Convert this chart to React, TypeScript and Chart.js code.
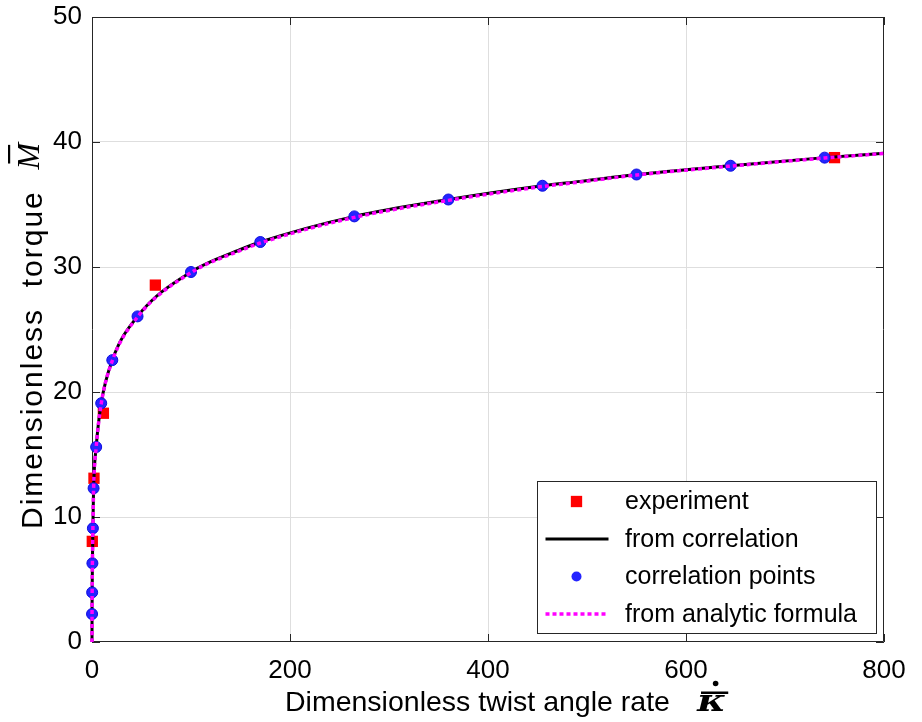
import { useEffect, useRef } from 'react';
import { Chart, registerables } from 'chart.js';

Chart.register(...registerables);

// ---- data ----
const experimentX = [0.3, 2.0, 11.5, 64, 750];
const experimentY = [8.05, 13.1, 18.3, 28.55, 38.75];

const pointsX = [0.05, 0.15, 0.4, 0.9, 1.6, 4.2, 9.3, 20.5, 46, 100, 170, 265, 360, 455, 550, 645, 740];
const pointsY = [2.24, 3.97, 6.3, 9.1, 12.3, 15.6, 19.1, 22.55, 26.05, 29.6, 32.0, 34.05, 35.4, 36.5, 37.4, 38.1, 38.75];

const curveX = [0, 0.05, 0.15, 0.4, 0.9, 1.6, 4.2, 9.3, 20.5, 46, 100, 150, 170, 265, 360, 455, 493, 550, 645, 740, 800];
const correlationY = [0, 2.24, 3.97, 6.3, 9.1, 12.3, 15.6, 19.1, 22.55, 26.05, 29.6, 31.4, 32.0, 34.05, 35.4, 36.5, 36.85, 37.4, 38.1, 38.75, 39.1];
const analyticY = [0, 2.2, 3.95, 6.25, 9.05, 12.25, 15.55, 19.05, 22.5, 26.0, 29.55, 31.32, 31.92, 33.97, 35.33, 36.44, 36.8, 37.36, 38.07, 38.72, 39.08];

const xTicks = [0, 200, 400, 600, 800];
const yTicks = [0, 10, 20, 30, 40, 50];

const labels = ['experiment', 'from correlation', 'correlation points', 'from analytic formula'];
const xTitle = 'Dimensionless twist angle rate';
const yTitle = 'Dimensionless  torque';

const SANS = "'Liberation Sans', Arial, sans-serif";
const SERIF = "'DejaVu Serif', 'Liberation Serif', serif";
const MSERIF = "'Liberation Serif', 'Times New Roman', serif";

const toXY = (xs: number[], ys: number[]) => xs.map((x, i) => ({ x, y: ys[i] }));

const decorPlugin = {
  id: 'decor',
  beforeDatasetsDraw(chart: any) {
    const { ctx, chartArea: a, scales } = chart;
    const x = scales.x;
    const y = scales.y;
    ctx.save();
    ctx.strokeStyle = '#262626';
    ctx.lineWidth = 1;
    ctx.beginPath();
    ctx.rect(Math.round(a.left) + 0.5, Math.round(a.top) + 0.5, Math.round(a.right - a.left) - 1, Math.round(a.bottom - a.top) - 1);
    ctx.stroke();
    const tl = 8;
    ctx.beginPath();
    for (const v of xTicks) {
      const px = Math.round(x.getPixelForValue(v)) + 0.5;
      ctx.moveTo(px, a.bottom);
      ctx.lineTo(px, a.bottom - tl);
      ctx.moveTo(px, a.top);
      ctx.lineTo(px, a.top + tl);
    }
    for (const v of yTicks) {
      const py = Math.round(y.getPixelForValue(v)) + 0.5;
      ctx.moveTo(a.left, py);
      ctx.lineTo(a.left + tl, py);
      ctx.moveTo(a.right, py);
      ctx.lineTo(a.right - tl, py);
    }
    ctx.stroke();
    ctx.restore();
  },
  afterDraw(chart: any) {
    const { ctx } = chart;
    ctx.save();
    // ---- legend ----
    const L = { left: 537.5, top: 481.5, w: 339, h: 152 };
    ctx.fillStyle = '#ffffff';
    ctx.fillRect(L.left, L.top, L.w, L.h);
    ctx.strokeStyle = '#262626';
    ctx.lineWidth = 1;
    ctx.strokeRect(L.left, L.top, L.w, L.h);
    const ds = chart.data.datasets;
    ds.forEach((d: any, i: number) => {
      const cy = L.top + 20 + i * 37.5;
      const mx = L.left + 39;
      if (d.showLine) {
        ctx.save();
        ctx.strokeStyle = d.borderColor;
        ctx.lineWidth = d.borderWidth;
        ctx.setLineDash(d.borderDash || []);
        ctx.beginPath();
        ctx.moveTo(L.left + 8, cy);
        ctx.lineTo(L.left + 71, cy);
        ctx.stroke();
        ctx.restore();
      } else {
        ctx.save();
        ctx.fillStyle = d.backgroundColor;
        if (d.pointStyle === 'rect') {
          const s = d.pointRadius * Math.SQRT1_2;
          ctx.fillRect(mx - s, cy - s, 2 * s, 2 * s);
        } else {
          ctx.beginPath();
          ctx.arc(mx, cy, d.pointRadius - 0.5, 0, Math.PI * 2);
          ctx.fill();
        }
        ctx.restore();
      }
      ctx.fillStyle = '#000000';
      ctx.font = `25px ${SANS}`;
      ctx.textBaseline = 'middle';
      ctx.textAlign = 'left';
      ctx.fillText(d.label, L.left + 87.5, cy + 1);
    });

    // ---- x title ----
    ctx.fillStyle = '#000000';
    ctx.textBaseline = 'alphabetic';
    ctx.textAlign = 'left';
    ctx.font = `28.5px ${SANS}`;
    const xtx = 285;
    const xty = 711;
    ctx.fillText(xTitle, xtx, xty);
    const kx = 697;
    ctx.font = `bold italic 30px ${SERIF}`;
    ctx.save();
    ctx.translate(kx, xty);
    ctx.scale(1.3, 1);
    ctx.fillText('κ', 0, 0);
    ctx.restore();
    const kw = ctx.measureText('κ').width * 1.3;
    ctx.fillRect(kx + 4, 691.5, kw - 2, 2.5);
    ctx.beginPath();
    ctx.arc(kx + 4 + kw / 2, 683.5, 2.8, 0, Math.PI * 2);
    ctx.fill();

    // ---- y title ----
    ctx.save();
    ctx.translate(42, 529);
    ctx.rotate(-Math.PI / 2);
    ctx.font = `30px ${SANS}`;
    try { (ctx as any).letterSpacing = '2px'; } catch (e) { /* ignore */ }
    ctx.fillText(yTitle, 0, 0);
    const tw = ctx.measureText(yTitle + '  ').width;
    try { (ctx as any).letterSpacing = '0px'; } catch (e) { /* ignore */ }
    ctx.font = `italic 32px ${MSERIF}`;
    ctx.fillText('M', tw, -3);
    const mw = ctx.measureText('M').width;
    ctx.fillRect(tw + 6, -34, mw - 8, 2.2);
    ctx.restore();

    ctx.restore();
  },
};

export default function App() {
  const ref = useRef<HTMLCanvasElement | null>(null);
  useEffect(() => {
    document.body.style.margin = '0';
    const canvas = ref.current;
    if (!canvas) return;
    const chart = new Chart(canvas, {
      type: 'scatter',
      data: {
        datasets: [
          {
            label: labels[0],
            data: toXY(experimentX, experimentY),
            showLine: false,
            pointStyle: 'rect',
            pointRadius: 8,
            backgroundColor: '#ff0000',
            borderColor: '#ff0000',
            borderWidth: 0,
            order: 4,
            clip: 8,
          },
          {
            label: labels[1],
            data: toXY(curveX, correlationY),
            showLine: true,
            pointRadius: 0,
            borderColor: '#000000',
            borderWidth: 3,
            cubicInterpolationMode: 'monotone',
            order: 3,
            clip: 8,
          },
          {
            label: labels[2],
            data: toXY(pointsX, pointsY),
            showLine: false,
            pointStyle: 'circle',
            pointRadius: 5.5,
            backgroundColor: '#2424ff',
            borderColor: '#0c0ce0',
            borderWidth: 1,
            order: 2,
            clip: 8,
          },
          {
            label: labels[3],
            data: toXY(curveX, analyticY),
            showLine: true,
            pointRadius: 0,
            borderColor: '#ff00ff',
            borderWidth: 3.5,
            borderDash: [4, 3],
            cubicInterpolationMode: 'monotone',
            order: 1,
            clip: 8,
          },
        ] as any,
      },
      options: {
        animation: false,
        responsive: false,
        events: [],
        layout: { padding: { top: 17, right: 38, left: 0, bottom: 0 } },
        plugins: { legend: { display: false }, tooltip: { enabled: false }, title: { display: false } },
        scales: {
          x: {
            type: 'linear',
            min: 0,
            max: 800,
            afterFit: (s: any) => { s.height = 80; s.paddingLeft = 0; s.paddingRight = 0; },
            afterBuildTicks: (s: any) => { s.ticks = xTicks.map((v) => ({ value: v })); },
            ticks: { font: { size: 26, family: SANS }, color: '#000000', padding: 13, maxRotation: 0 },
            grid: {
              drawTicks: false,
              color: (c: any) => (c.tick && (c.tick.value === 0 || c.tick.value === 800) ? 'rgba(0,0,0,0)' : '#dedede'),
              lineWidth: 1,
            },
            border: { display: false },
          },
          y: {
            type: 'linear',
            min: 0,
            max: 50,
            afterFit: (s: any) => { s.width = 92; s.paddingTop = 0; s.paddingBottom = 0; },
            afterBuildTicks: (s: any) => { s.ticks = yTicks.map((v) => ({ value: v })); },
            ticks: { font: { size: 26, family: SANS }, color: '#000000', padding: 10 },
            grid: {
              drawTicks: false,
              color: (c: any) => (c.tick && (c.tick.value === 0 || c.tick.value === 50) ? 'rgba(0,0,0,0)' : '#dedede'),
              lineWidth: 1,
            },
            border: { display: false },
          },
        },
      },
      plugins: [decorPlugin],
    });
    return () => chart.destroy();
  }, []);
  return (
    <div style={{ width: 922, height: 722, position: 'relative', background: '#fff' }}>
      <canvas ref={ref} width={922} height={722} style={{ display: 'block' }} />
    </div>
  );
}
